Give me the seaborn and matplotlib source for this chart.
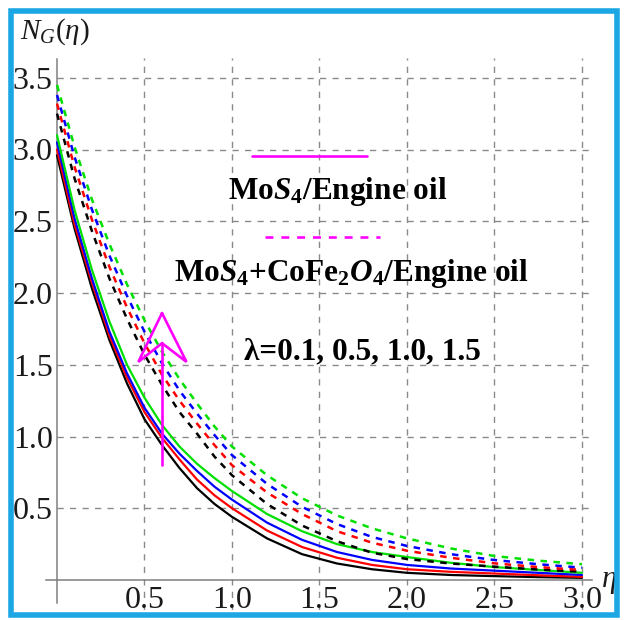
import numpy as np
import pandas as pd
import matplotlib
matplotlib.use("Agg")
import matplotlib.pyplot as plt
from matplotlib.patches import Rectangle
from matplotlib.ticker import MultipleLocator, FixedLocator
import seaborn as sns

# ---- data ----
eta = [0.0, 0.1, 0.2, 0.3, 0.4, 0.5, 0.6, 0.7, 0.8, 0.9, 1.0,
       1.2, 1.4, 1.6, 1.8, 2.0, 2.25, 2.5, 2.75, 3.0]

# MoS4 / Engine oil (solid), lambda = 0.1, 0.5, 1.0, 1.5
mono_l01 = [2.96, 2.45, 2.03, 1.67, 1.37, 1.12, 0.94, 0.78, 0.64, 0.53, 0.44,
            0.29, 0.18, 0.115, 0.075, 0.050, 0.035, 0.027, 0.020, 0.015]
mono_l05 = [3.00, 2.48, 2.07, 1.70, 1.41, 1.17, 0.99, 0.84, 0.70, 0.59, 0.50,
            0.345, 0.23, 0.155, 0.105, 0.075, 0.057, 0.045, 0.033, 0.022]
mono_l10 = [3.05, 2.52, 2.10, 1.73, 1.44, 1.20, 1.02, 0.88, 0.76, 0.65, 0.56,
            0.40, 0.28, 0.195, 0.14, 0.105, 0.080, 0.065, 0.050, 0.035]
mono_l15 = [3.10, 2.58, 2.16, 1.80, 1.50, 1.27, 1.08, 0.93, 0.81, 0.71, 0.62,
            0.46, 0.34, 0.25, 0.195, 0.160, 0.120, 0.090, 0.070, 0.050]

# MoS4 + CoFe2O4 / Engine oil (dashed), lambda = 0.1, 0.5, 1.0, 1.5
hyb_l01 = [3.25, 2.80, 2.43, 2.10, 1.82, 1.57, 1.36, 1.17, 1.02, 0.86, 0.73,
           0.53, 0.38, 0.27, 0.19, 0.146, 0.115, 0.093, 0.073, 0.058]
hyb_l05 = [3.32, 2.88, 2.51, 2.18, 1.90, 1.65, 1.43, 1.25, 1.09, 0.94, 0.80,
           0.61, 0.46, 0.34, 0.26, 0.204, 0.155, 0.116, 0.090, 0.070]
hyb_l10 = [3.38, 2.95, 2.58, 2.26, 1.98, 1.73, 1.51, 1.32, 1.16, 1.01, 0.87,
           0.67, 0.51, 0.39, 0.30, 0.237, 0.180, 0.139, 0.110, 0.086]
hyb_l15 = [3.45, 3.02, 2.65, 2.34, 2.06, 1.81, 1.59, 1.40, 1.23, 1.07, 0.93,
           0.73, 0.57, 0.45, 0.36, 0.290, 0.220, 0.167, 0.135, 0.110]

lambda_text = "λ=0.1, 0.5, 1.0, 1.5"
legend_mono = r"Mo$\mathbfit{S}_\mathbf{4}$/Engine oil"
legend_hyb = r"Mo$\mathbfit{S}_\mathbf{4}$+CoFe$_\mathbf{2}\mathbfit{O}_\mathbf{4}$/Engine oil"
x_ticks = [0.5, 1.0, 1.5, 2.0, 2.5, 3.0]
y_ticks = [0.5, 1.0, 1.5, 2.0, 2.5, 3.0, 3.5]

# ---- style ----
sns.set_style("white")
plt.rcParams["font.family"] = ["Liberation Serif", "DejaVu Serif"]
plt.rcParams["mathtext.fontset"] = "custom"
plt.rcParams["mathtext.rm"] = "Liberation Serif"
plt.rcParams["mathtext.it"] = "Liberation Serif:italic"
plt.rcParams["mathtext.bf"] = "Liberation Serif:bold"
plt.rcParams["mathtext.bfit"] = "Liberation Serif:bold:italic"

W, H = 625, 620
fig = plt.figure(figsize=(W / 100, H / 100), dpi=100)
fig.patch.set_facecolor("white")

# axes placement in pixels
xlo, xhi = -0.06, 3.06
ylo, yhi = -0.21, 3.64
px_x0, px_per_x = 57, 175.0
px_y0, px_per_y = 580, 143.5
left = (px_x0 + xlo * px_per_x) / W
right = (px_x0 + xhi * px_per_x) / W
top = 1 - (px_y0 - yhi * px_per_y) / H
bottom = 1 - (px_y0 - ylo * px_per_y) / H
ax = fig.add_axes([left, bottom, right - left, top - bottom])
ax.set_facecolor("none")
ax.set_xlim(xlo, xhi)
ax.set_ylim(ylo, yhi)

# grid (dashed gray)
grid_kw = dict(color="#8a8a8a", lw=1.0, linestyle=(0, (4.5, 4.5)), zorder=0)
for yv in y_ticks:
    ax.plot([0, xhi], [yv, yv], **grid_kw)
for xv in x_ticks:
    ax.plot([xv, xv], [ylo, yhi], **grid_kw)

colors = ["black", "#ff0000", "#0000ff", "#00e000"]
solid = [mono_l01, mono_l05, mono_l10, mono_l15]
dashed = [hyb_l01, hyb_l05, hyb_l10, hyb_l15]
for c, ys in zip(colors, solid):
    sns.lineplot(x=eta, y=ys, color=c, lw=1.6, ax=ax, zorder=3)
for c, ys in zip(colors, dashed):
    sns.lineplot(x=eta, y=ys, color=c, lw=1.8, linestyle=(0, (2.6, 2.6)), ax=ax, zorder=3)

# axes through origin, Mathematica style
for s in ["top", "right"]:
    ax.spines[s].set_visible(False)
ax.spines["left"].set_position(("data", 0))
ax.spines["bottom"].set_position(("data", 0))
ax.spines["left"].set_bounds(-0.16, 3.63)
ax.spines["bottom"].set_bounds(-0.06, 3.06)
for s in ["left", "bottom"]:
    ax.spines[s].set_color("#808080")
    ax.spines[s].set_linewidth(1.1)

ax.xaxis.set_major_locator(FixedLocator(x_ticks))
ax.yaxis.set_major_locator(FixedLocator(y_ticks))
ax.xaxis.set_minor_locator(MultipleLocator(0.1))
ax.yaxis.set_minor_locator(MultipleLocator(0.1))
ax.set_xticklabels([f"{v:.1f}" for v in x_ticks], fontfamily="Liberation Serif")
ax.set_yticklabels([f"{v:.1f}" for v in y_ticks], fontfamily="Liberation Serif")
ax.tick_params(which="both", direction="in", color="#808080", width=1.0,
               labelsize=23, labelcolor="#1a1a1a")
ax.tick_params(which="major", length=4.5)
ax.tick_params(which="minor", length=2.2)
ax.tick_params(axis="x", pad=4)
ax.tick_params(axis="y", pad=3)
ax.set_xlabel("")
ax.set_ylabel("")

# axis titles
fig.text(20 / W, 1 - 32 / H, r"$N_G(\eta)$", fontsize=21, ha="left", va="center", color="#1a1a1a")
fig.text(609 / W, 1 - 582 / H, r"$\eta$", fontsize=22, ha="center", va="center", color="#1a1a1a")

# legend-like annotations
mag = "#ff00ff"
ax.plot([1.114, 1.771], [2.955, 2.955], color=mag, lw=1.9, zorder=4)
ax.plot([1.189, 1.846], [2.392, 2.392], color=mag, lw=1.9, linestyle=(0, (3, 3)), zorder=4)
tkw = dict(fontsize=22.5, fontweight="bold", ha="center", va="center", color="black", zorder=5)
ax.text(1.606, 2.706, legend_mono, **tkw)
ax.text(1.68, 2.139, legend_hyb, **tkw)
ax.text(1.746, 1.591, lambda_text, **tkw)

# arrow (open chevron head)
ax.plot([0.6, 0.6], [0.8, 1.65], color=mag, lw=1.9, zorder=4)
ax.plot([0.6, 0.74, 0.6, 0.465, 0.6], [1.86, 1.52, 1.65, 1.52, 1.86],
        color=mag, lw=1.9, solid_joinstyle="miter", zorder=4)

# blue border frame
fig.patches.append(Rectangle((10.5 / W, 1 - 615 / H), (617 - 10.5) / W, (615 - 10.5) / H,
                             transform=fig.transFigure, fill=False,
                             edgecolor="#1ba6e4", lw=4.0, zorder=10))

fig.savefig("out.png", dpi=100)
